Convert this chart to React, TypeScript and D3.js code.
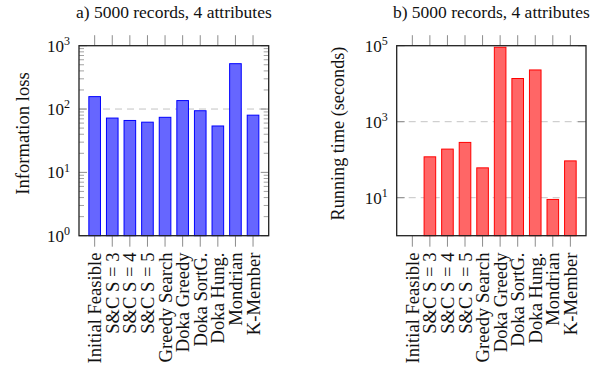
import React from "react";
import * as d3 from "d3";

const categories = [
  "Initial Feasible",
  "S&C S = 3",
  "S&C S = 4",
  "S&C S = 5",
  "Greedy Search",
  "Doka Greedy",
  "Doka SortG.",
  "Doka Hung.",
  "Mondrian",
  "K-Member",
];

const infoLoss = [157, 72, 66, 62, 74, 136, 94, 54, 520, 80];
const runningTime = [1, 119, 190, 285, 61, 91000, 13700, 23000, 9, 93];

const leftTicks = [0, 1, 2, 3];
const rightTicks = [1, 3, 5];

const FONT = '"Liberation Serif", "DejaVu Serif", serif';

type PanelProps = {
  x0: number;
  x1: number;
  title: string;
  ylabel: string;
  ylabelX: number;
  ylabelSize: number;
  values: number[];
  domainMax: number;
  majorExps: number[];
  gridExps: number[];
  minor: boolean;
  fill: string;
  stroke: string;
};

function Panel(p: PanelProps) {
  const y0 = 45.7;
  const y1 = 235.7;
  const x = d3.scalePoint<string>().domain(categories).range([p.x0, p.x1]).padding(0.89);
  const y = d3.scaleLog().domain([1, p.domainMax]).range([y1, y0]);
  const step = x.step();
  const bw = step * 0.66;
  const tickColor = "#8c8c8c";

  const minorVals: number[] = [];
  if (p.minor) {
    for (let e = 0; e < Math.log10(p.domainMax); e++) {
      for (let m = 2; m <= 9; m++) minorVals.push(m * Math.pow(10, e));
    }
  }

  return (
    <g>
      <text
        x={(p.x0 + p.x1) / 2}
        y={18}
        textAnchor="middle"
        style={{ fontFamily: FONT, fontSize: 17.5 }}
        fill="#111"
      >
        {p.title}
      </text>
      {p.gridExps.map((e) => (
        <line
          key={"g" + e}
          x1={p.x0}
          x2={p.x1}
          y1={y(Math.pow(10, e))}
          y2={y(Math.pow(10, e))}
          stroke="#c4c4c4"
          strokeWidth={1}
          strokeDasharray="7,5"
        />
      ))}
      {p.values.map((v, i) => {
        const cx = x(categories[i])!;
        const top = y(v);
        return (
          <rect
            key={"b" + i}
            x={cx - bw / 2}
            y={top}
            width={bw}
            height={Math.max(0, y1 - top)}
            fill={p.fill}
            stroke={p.stroke}
            strokeWidth={1}
          />
        );
      })}
      {minorVals.map((v, i) => (
        <g key={"m" + i}>
          <line x1={p.x0} x2={p.x0 + 5} y1={y(v)} y2={y(v)} stroke={tickColor} strokeWidth={0.8} />
          <line x1={p.x1} x2={p.x1 - 5} y1={y(v)} y2={y(v)} stroke={tickColor} strokeWidth={0.8} />
        </g>
      ))}
      {p.majorExps.map((e) => {
        const yy = y(Math.pow(10, e));
        return (
          <g key={"M" + e}>
            <line x1={p.x0} x2={p.x0 + 8} y1={yy} y2={yy} stroke={tickColor} strokeWidth={1} />
            <line x1={p.x1} x2={p.x1 - 8} y1={yy} y2={yy} stroke={tickColor} strokeWidth={1} />
            <text
              x={p.x0 - 9}
              y={yy}
              dy="0.35em"
              textAnchor="end"
              style={{ fontFamily: FONT, fontSize: 17 }}
              fill="#111"
            >
              10
              <tspan style={{ fontSize: 12 }} dy="-0.55em">
                {String(e)}
              </tspan>
            </text>
          </g>
        );
      })}
      {categories.map((c) => {
        const cx = x(c)!;
        return (
          <g key={"c" + c}>
            <line x1={cx} x2={cx} y1={y0} y2={y0 - 10.5} stroke={tickColor} strokeWidth={1} />
            <line x1={cx} x2={cx} y1={y1} y2={y1 + 11} stroke={tickColor} strokeWidth={1} />
            <text
              transform={`translate(${cx},${252.5}) rotate(-90)`}
              dy="0.35em"
              textAnchor="end"
              style={{ fontFamily: FONT, fontSize: 18.6 }}
              fill="#111"
            >
              {c}
            </text>
          </g>
        );
      })}
      <rect
        x={p.x0}
        y={y0}
        width={p.x1 - p.x0}
        height={y1 - y0}
        fill="none"
        stroke="#222"
        strokeWidth={1.3}
      />
      <text
        transform={`translate(${p.ylabelX},${133.5}) rotate(-90)`}
        dy="0.35em"
        textAnchor="middle"
        style={{ fontFamily: FONT, fontSize: p.ylabelSize }}
        fill="#111"
      >
        {p.ylabel}
      </text>
    </g>
  );
}

export default function App() {
  return (
    <svg
      width={613}
      height={370}
      style={{ position: "absolute", left: 0, top: 0, background: "#fff" }}
    >
      <rect width={613} height={370} fill="#fff" />
      <Panel
        x0={79}
        x1={268.7}
        title="a) 5000 records, 4 attributes"
        ylabel="Information loss"
        ylabelX={22}
        ylabelSize={18.6}
        values={infoLoss}
        domainMax={1000}
        majorExps={leftTicks}
        gridExps={[2]}
        minor={true}
        fill="#6666ff"
        stroke="#0000ff"
      />
      <Panel
        x0={396.7}
        x1={586}
        title="b) 5000 records, 4 attributes"
        ylabel="Running time (seconds)"
        ylabelX={338}
        ylabelSize={18.2}
        values={runningTime}
        domainMax={100000}
        majorExps={rightTicks}
        gridExps={[1, 3]}
        minor={false}
        fill="#ff6666"
        stroke="#ff0000"
      />
    </svg>
  );
}
